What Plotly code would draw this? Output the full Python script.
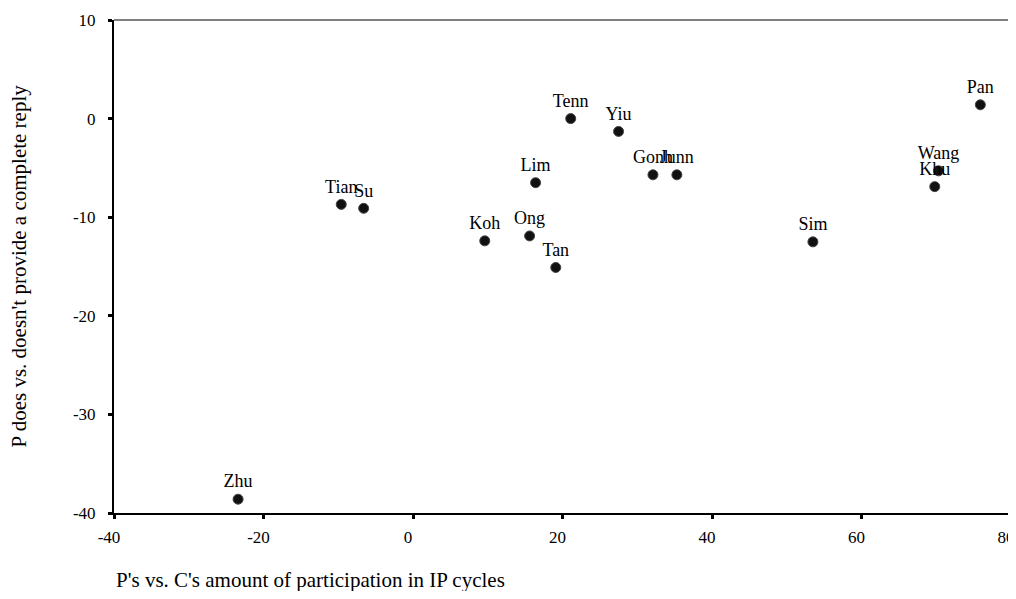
import plotly.graph_objects as go

names = ["Zhu", "Tian", "Su", "Koh", "Ong", "Tan", "Lim", "Tenn", "Yiu",
         "Gonh", "Junn", "Sim", "Wang", "Khu", "Pan"]
x_vals = [-23.4, -9.6, -6.6, 9.6, 15.6, 19.1, 16.4, 21.1, 27.5,
          32.1, 35.3, 53.5, 70.3, 69.8, 75.9]
y_vals = [-38.6, -8.7, -9.1, -12.4, -11.9, -15.1, -6.5, 0.0, -1.3,
          -5.7, -5.7, -12.5, -5.3, -6.9, 1.4]

x_ticks = [-40, -20, 0, 20, 40, 60, 80]
x_tick_labels = ["-40", "-20", "0", "20", "40", "60", "80"]
y_ticks = [-40, -30, -20, -10, 0, 10]
y_tick_labels = ["-40", "-30", "-20", "-10", "0", "10"]

FONT = "Liberation Serif"

fig = go.Figure()
fig.add_trace(go.Scatter(
    x=x_vals, y=y_vals, mode="markers+text", text=names,
    textposition="top center",
    textfont=dict(family=FONT, size=18, color="black"),
    marker=dict(symbol="circle", size=10, color="#111",
                line=dict(color="#444", width=1)),
    cliponaxis=False, showlegend=False,
))

fig.update_layout(
    width=1008, height=583,
    margin=dict(l=106, r=5, t=12, b=78),
    paper_bgcolor="white", plot_bgcolor="white",
    font=dict(family=FONT, size=16, color="black"),
    xaxis=dict(range=[-40, 80], tickvals=x_ticks, ticktext=x_tick_labels,
               showgrid=False, zeroline=False, showline=True, linecolor="black",
               linewidth=2, ticks="outside", ticklen=4, tickwidth=3,
               tickcolor="black", mirror=False, automargin=False,
               ticklabelstandoff=4, ticklabelshift=-5,
               tickfont=dict(family=FONT, size=17)),
    yaxis=dict(range=[-40, 10], tickvals=y_ticks, ticktext=y_tick_labels,
               showgrid=False, zeroline=False, showline=True, linecolor="black",
               linewidth=2, ticks="outside", ticklen=4, tickwidth=3,
               tickcolor="black", mirror=False, automargin=False,
               ticklabelstandoff=9,
               tickfont=dict(family=FONT, size=17)),
    shapes=[
        dict(type="line", xref="paper", yref="paper", x0=0, x1=1, y0=1, y1=1,
             line=dict(color="black", width=1)),
        dict(type="line", xref="paper", yref="paper", x0=1, x1=1, y0=0, y1=1,
             line=dict(color="black", width=2)),
    ],
    annotations=[
        dict(text="P's vs. C's amount of participation in IP cycles",
             xref="paper", yref="paper", x=0, y=0, yshift=-67,
             xanchor="left", yanchor="middle", showarrow=False,
             font=dict(family=FONT, size=21)),
        dict(text="P does vs. doesn't provide a complete reply",
             xref="paper", yref="paper", x=0, y=0.5, xshift=-96,
             xanchor="center", yanchor="middle", textangle=-90, showarrow=False,
             font=dict(family=FONT, size=21)),
    ],
)

fig.write_html("out.html")
